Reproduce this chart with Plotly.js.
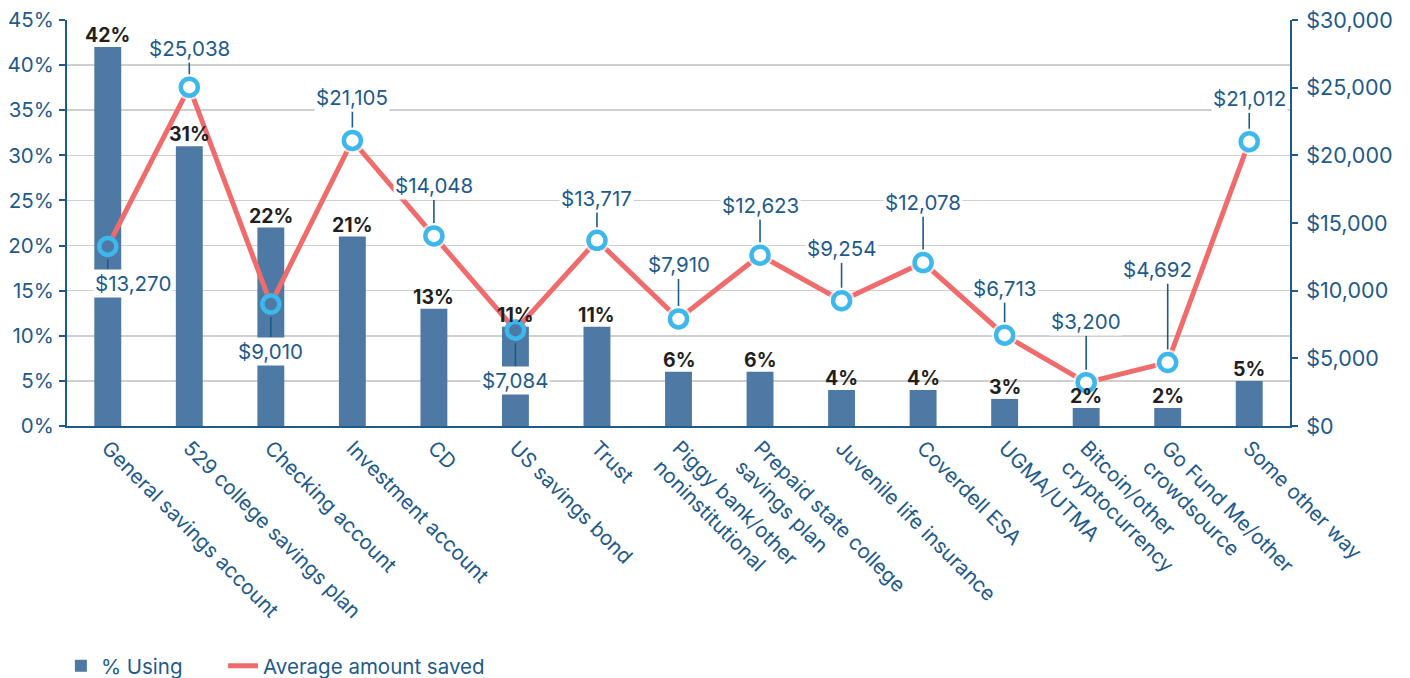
<!DOCTYPE html>
<html>
<head>
<meta charset="utf-8">
<script src="https://cdn.plot.ly/plotly-3.0.1.min.js"></script>
<style>
  html, body { margin: 0; padding: 0; background: #ffffff; overflow: hidden; }
  #chart { width: 1410px; height: 678px; }
</style>
</head>
<body>
<div id="chart"></div>
<script>
// ---- data ----
const categories = [
  "General savings account",
  "529 college savings plan",
  "Checking account",
  "Investment account",
  "CD",
  "US savings bond",
  "Trust",
  "Piggy bank/other<br>noninstitutional",
  "Prepaid state college<br>savings plan",
  "Juvenile life insurance",
  "Coverdell ESA",
  "UGMA/UTMA",
  "Bitcoin/other<br>cryptocurrency",
  "Go Fund Me/other<br>crowdsource",
  "Some other way"
];
const pctUsing = [42, 31, 22, 21, 13, 11, 11, 6, 6, 4, 4, 3, 2, 2, 5];
const avgSaved = [13270, 25038, 9010, 21105, 14048, 7084, 13717, 7910, 12623, 9254, 12078, 6713, 3200, 4692, 21012];

// ---- layout helpers (label placement in px relative to each marker) ----
const labelOffsetPx = [37, -39, 47, -43, -50, 50, -42, -54, -50, -52, -60, -47, -61, -93, -43];
const labelShiftPx  = [25, 0, 0, 0, 0, 0, 0, 0, 0, 0, 0, 0, 0, -10, 0];

// ---- styles ----
const FONT = "Inter, 'Open Sans', sans-serif";
const BLUE_TEXT = "#1e5a8c";
const BAR_COLOR = "#4e79a4";
const LINE_COLOR = "#f06b6b";
const RING_COLOR = "#3db8ec";
const PCT_MAX = 45, USD_MAX = 30000;
const LABEL_SIZE = 20.5;

// marker interior: bar colour when marker sits on a bar, white otherwise
const onBar = avgSaved.map((v, i) => (v / USD_MAX * PCT_MAX) <= pctUsing[i]);
const fillColors = onBar.map(b => b ? BAR_COLOR : "#ffffff");
const haloSizes = onBar.map(b => b ? 22 : 26);

const fmtUSD = v => "$" + v.toLocaleString("en-US");

const traces = [
  {
    type: "bar",
    name: "% Using",
    legend: "legend",
    x: categories,
    y: pctUsing,
    yaxis: "y",
    width: 0.33,
    marker: { color: BAR_COLOR },
    hoverinfo: "skip"
  },
  {
    type: "scatter",
    mode: "lines",
    name: "Average amount saved",
    legend: "legend2",
    x: categories,
    y: avgSaved,
    yaxis: "y2",
    line: { color: LINE_COLOR, width: 5 },
    hoverinfo: "skip"
  },
  {
    type: "scatter",
    mode: "markers",
    showlegend: false,
    x: categories,
    y: avgSaved,
    yaxis: "y2",
    marker: { symbol: "circle", size: haloSizes, color: fillColors, line: { width: 0 } },
    cliponaxis: false,
    hoverinfo: "skip"
  },
  {
    type: "scatter",
    mode: "markers",
    showlegend: false,
    x: categories,
    y: avgSaved,
    yaxis: "y2",
    marker: { symbol: "circle", size: 17, color: fillColors, line: { width: 4.5, color: RING_COLOR } },
    cliponaxis: false,
    hoverinfo: "skip"
  }
];

const barLabels = pctUsing.map((p, i) => ({
  x: categories[i],
  y: p,
  xref: "x",
  yref: "y",
  text: "<b>" + p + "%</b>",
  showarrow: false,
  yanchor: "bottom",
  yshift: -2,
  font: { family: FONT, size: 19.5, color: "#231f20" }
}));

// leader lines (vertical, from marker toward its label)
const leaders = avgSaved.map((v, i) => ({
  x: categories[i],
  y: v,
  xref: "x",
  yref: "y2",
  text: " ",
  showarrow: true,
  arrowhead: 0,
  arrowwidth: 1.6,
  arrowcolor: BLUE_TEXT,
  ax: 0,
  ay: labelOffsetPx[i],
  axref: "pixel",
  ayref: "pixel",
  standoff: 13,
  bgcolor: "rgba(0,0,0,0)",
  borderpad: 1,
  font: { family: FONT, size: LABEL_SIZE, color: BLUE_TEXT }
}));

// dollar value labels on white boxes
const usdLabels = avgSaved.map((v, i) => ({
  x: categories[i],
  y: v,
  xref: "x",
  yref: "y2",
  text: fmtUSD(v),
  showarrow: false,
  xshift: labelShiftPx[i],
  yshift: -labelOffsetPx[i],
  bgcolor: "#ffffff",
  borderpad: 1,
  font: { family: FONT, size: LABEL_SIZE, color: BLUE_TEXT }
}));

const legendCommon = {
  orientation: "h",
  xanchor: "left",
  y: -0.591,
  yanchor: "middle",
  font: { family: FONT, size: 20.5, color: BLUE_TEXT },
  bgcolor: "rgba(0,0,0,0)"
};

const layout = {
  width: 1410,
  height: 678,
  margin: { l: 67, r: 120, t: 20, b: 252, pad: 0, autoexpand: false },
  paper_bgcolor: "#ffffff",
  plot_bgcolor: "#ffffff",
  font: { family: FONT, size: 20, color: BLUE_TEXT },
  xaxis: {
    type: "category",
    range: [-0.5, categories.length - 0.5],
    autorange: false,
    showline: true,
    linecolor: BLUE_TEXT,
    linewidth: 2,
    ticks: "",
    tickangle: 45,
    tickfont: { family: FONT, size: 20.5, color: BLUE_TEXT },
    showgrid: false,
    zeroline: false,
    automargin: false
  },
  yaxis: {
    range: [0, PCT_MAX],
    autorange: false,
    dtick: 5,
    ticksuffix: "%",
    showline: true,
    linecolor: BLUE_TEXT,
    linewidth: 2,
    ticks: "outside",
    ticklen: 6,
    tickwidth: 2,
    tickcolor: BLUE_TEXT,
    ticklabelstandoff: 1,
    showgrid: true,
    gridcolor: "#cfcfcf",
    gridwidth: 1.5,
    zeroline: false,
    tickfont: { family: FONT, size: 20.5, color: BLUE_TEXT },
    automargin: false
  },
  yaxis2: {
    overlaying: "y",
    side: "right",
    range: [0, USD_MAX],
    autorange: false,
    dtick: 5000,
    tickprefix: "$",
    tickformat: ",d",
    showline: true,
    linecolor: BLUE_TEXT,
    linewidth: 2,
    ticks: "outside",
    ticklen: 6,
    tickwidth: 2,
    tickcolor: BLUE_TEXT,
    ticklabelstandoff: 4,
    showgrid: false,
    zeroline: false,
    tickfont: { family: FONT, size: 21.5, color: BLUE_TEXT },
    automargin: false
  },
  showlegend: true,
  legend: Object.assign({}, legendCommon, { x: -0.005 }),
  legend2: Object.assign({}, legendCommon, { x: 0.1276 }),
  annotations: barLabels.concat(leaders, usdLabels)
};

Plotly.newPlot("chart", traces, layout, { displayModeBar: false, staticPlot: true });
</script>
</body>
</html>
